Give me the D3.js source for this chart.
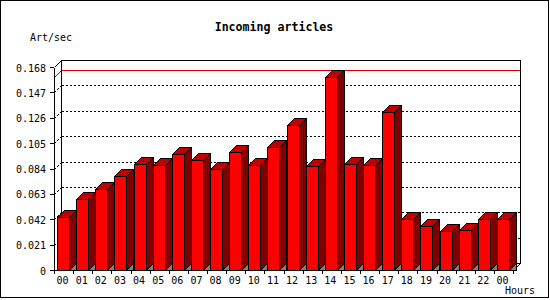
<!DOCTYPE html>
<html>
<head>
<meta charset="utf-8">
<script src="https://cdn.jsdelivr.net/npm/d3@7"></script>
<style>
  body { margin: 0; background: #fff; }
  svg { display: block; }
  text { font-family: "DejaVu Sans Mono", monospace; fill: #000; }
</style>
</head>
<body>
<div id="chart"></div>
<script>
// Hourly incoming article rate.
const hours = ['00', '01', '02', '03', '04', '05', '06', '07', '08', '09', '10', '11',
               '12', '13', '14', '15', '16', '17', '18', '19', '20', '21', '22', '00'];
const artPerSec = [0.0435, 0.0584, 0.0667, 0.0782, 0.0881, 0.0873, 0.0956, 0.0914,
                   0.0832, 0.0980, 0.0865, 0.1014, 0.1196, 0.0859, 0.1600, 0.0881,
                   0.0873, 0.1311, 0.0419, 0.0361, 0.0322, 0.0330, 0.0419, 0.0419];
const yTicks = [0, 0.021, 0.042, 0.063, 0.084, 0.105, 0.126, 0.147, 0.168];
const yTickLabels = ['0', '0.021', '0.042', '0.063', '0.084', '0.105', '0.126', '0.147', '0.168'];

const width = 550, height = 300;
const depth = 7;       // 3d offset of the back plane
const barW = 12;

const svg = d3.select('#chart').append('svg')
  .attr('width', width)
  .attr('height', height)
  .attr('shape-rendering', 'crispEdges');

const x = d3.scaleBand()
  .domain(d3.range(hours.length))
  .range([54, 513])
  .paddingInner(0)
  .paddingOuter(0);

const y = d3.scaleLinear()
  .domain([0, 0.168])
  .range([270, 67]);

const y0 = y(0);
const xLeft = x.range()[0], xRight = x.range()[1];

// Outer frame.
svg.append('rect')
  .attr('x', 0.5).attr('y', 0.5)
  .attr('width', 548).attr('height', 297)
  .attr('fill', 'none').attr('stroke', '#000');

// Back plane: gridlines.
const back = svg.append('g').attr('transform', 'translate(0.5,0.5)');

back.selectAll('line.grid')
  .data(yTicks.slice(1, -1))
  .join('line')
  .attr('class', 'grid')
  .attr('x1', xLeft + depth).attr('x2', xRight + depth)
  .attr('y1', d => Math.round(y(d)) - depth)
  .attr('y2', d => Math.round(y(d)) - depth)
  .attr('stroke', '#000')
  .attr('stroke-dasharray', '2,2');

back.selectAll('line.gridside')
  .data(yTicks.slice(1, -1))
  .join('line')
  .attr('class', 'gridside')
  .attr('x1', xLeft).attr('x2', xLeft + depth)
  .attr('y1', d => Math.round(y(d)))
  .attr('y2', d => Math.round(y(d)) - depth)
  .attr('stroke', '#000')
  .attr('stroke-dasharray', '2,2');

// Floor line at the back.
back.append('line')
  .attr('x1', xLeft + depth).attr('x2', xRight + depth)
  .attr('y1', y0 - depth).attr('y2', y0 - depth)
  .attr('stroke', '#000');

// Maximum value line.
const yMax = Math.round(y(d3.max(artPerSec)));
back.append('line')
  .attr('x1', xLeft + depth).attr('x2', xRight + depth)
  .attr('y1', yMax - depth).attr('y2', yMax - depth)
  .attr('stroke', '#e00000');
back.append('line')
  .attr('x1', xLeft).attr('x2', xLeft + depth)
  .attr('y1', yMax).attr('y2', yMax - depth)
  .attr('stroke', '#e00000');

// Back plane frame.
const yTop = Math.round(y(0.168));
back.append('path')
  .attr('d', `M${xLeft},${yTop}L${xLeft + depth},${yTop - depth}H${xRight + depth}V${y0 - depth}L${xRight},${y0}`)
  .attr('fill', 'none')
  .attr('stroke', '#000');
back.append('line')
  .attr('x1', xLeft + depth).attr('x2', xLeft + depth)
  .attr('y1', yTop - depth).attr('y2', y0 - depth)
  .attr('stroke', '#000');

// Y axis.
const yAxis = svg.append('g')
  .attr('transform', `translate(${xLeft},0)`)
  .call(d3.axisLeft(y)
    .tickValues(yTicks)
    .tickFormat((d, i) => yTickLabels[i])
    .tickSize(4)
    .tickSizeOuter(0)
    .tickPadding(4));
yAxis.selectAll('text')
  .attr('font-family', '"DejaVu Sans Mono", monospace')
  .attr('font-size', 10)
  .attr('dy', '0.4em');

// X axis baseline and ticks at the category boundaries.
const xg = svg.append('g').attr('transform', 'translate(0.5,0.5)');
xg.append('line')
  .attr('x1', xLeft).attr('x2', xRight)
  .attr('y1', y0).attr('y2', y0)
  .attr('stroke', '#000');
xg.selectAll('line.tick')
  .data(d3.range(hours.length + 1))
  .join('line')
  .attr('class', 'tick')
  .attr('x1', i => Math.round(i < hours.length ? x(i) : xRight))
  .attr('x2', i => Math.round(i < hours.length ? x(i) : xRight))
  .attr('y1', y0).attr('y2', y0 + 3)
  .attr('stroke', '#000');

svg.selectAll('text.hour')
  .data(hours)
  .join('text')
  .attr('class', 'hour')
  .attr('x', (d, i) => x(i) + x.bandwidth() / 2 - 1)
  .attr('y', 284)
  .attr('text-anchor', 'middle')
  .attr('font-size', 10)
  .text(d => d);

// Bars, left to right.
const bars = svg.append('g')
  .attr('transform', 'translate(0.5,0.5)')
  .selectAll('g.bar')
  .data(artPerSec)
  .join('g')
  .attr('class', 'bar');

bars.each(function(v, i) {
  const g = d3.select(this);
  const bx = Math.round(x(i)) + 3;
  const br = bx + barW;
  const top = Math.round(y(v));

  g.append('path')
    .attr('d', `M${br},${y0}L${br + depth},${y0 - depth}V${y0}Z`)
    .attr('fill', '#808080')
    .attr('stroke', '#000');
  g.append('path')
    .attr('d', `M${br},${top}L${br + depth},${top - depth}V${y0 - depth}L${br},${y0}Z`)
    .attr('fill', '#800000')
    .attr('stroke', '#000');
  g.append('path')
    .attr('d', `M${bx},${top}L${bx + depth},${top - depth}H${br + depth}L${br},${top}Z`)
    .attr('fill', '#c00000')
    .attr('stroke', '#000');
  g.append('rect')
    .attr('x', bx).attr('y', top)
    .attr('width', barW).attr('height', y0 - top)
    .attr('fill', '#ff0000')
    .attr('stroke', '#000');
});

// Titles.
svg.append('text')
  .attr('x', 274).attr('y', 31)
  .attr('text-anchor', 'middle')
  .attr('font-size', 11.6)
  .attr('font-weight', 'bold')
  .text('Incoming articles');

svg.append('text')
  .attr('x', 30).attr('y', 41)
  .attr('font-size', 10)
  .text('Art/sec');

svg.append('text')
  .attr('x', 505).attr('y', 294)
  .attr('font-size', 10)
  .text('Hours');
</script>
</body>
</html>
